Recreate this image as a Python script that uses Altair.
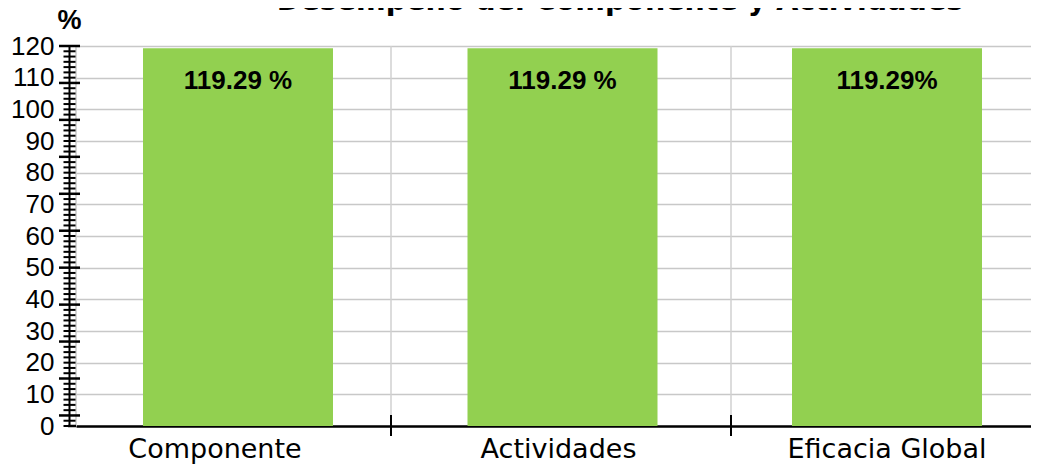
import altair as alt
import pandas as pd

title_text = "Desempeño del Componente y Actividades"
categories = ["Componente", "Actividades", "Eficacia Global"]
values = [119.29, 119.29, 119.29]
bar_labels = ["119.29 %", "119.29 %", "119.29%"]
y_label_values = [0, 10, 20, 30, 40, 50, 60, 70, 80, 90, 100, 110, 120]
major_ticks = [120, 108.33, 96.67, 85, 73.33, 61.67, 50, 38.33, 26.67, 15, 3.33]
minor_ticks = [round(120 - k * 5 / 3, 3) for k in range(73) if k % 7 != 0]

df = pd.DataFrame({"cat": categories, "val": values, "lab": bar_labels})
b1 = pd.DataFrame({"cat": ["Componente"]})
b2 = pd.DataFrame({"cat": ["Actividades"]})
majors = pd.DataFrame({"val": major_ticks})
minors = pd.DataFrame({"val": minor_ticks})

xscale = alt.Scale(domain=categories, paddingInner=0.41448, paddingOuter=0.17874, align=0.5776)
yscale = alt.Scale(domain=[0, 120], nice=False, zero=True)

x_axis = alt.Axis(
    title=None, labels=False, ticks=False,
    domainColor="black", domainWidth=2.5, grid=False)
y_axis = alt.Axis(
    values=y_label_values, title="%", titleAngle=0, titleX=0, titleY=-18,
    titleAlign="center", titleBaseline="alphabetic", titleFont="Liberation Sans",
    titleFontSize=27, titleFontWeight="bold", titleColor="black",
    labelFont="Liberation Sans", labelFontSize=26, labelColor="black",
    ticks=False, labelPadding=15, offset=7, domainColor="black", domainWidth=2,
    gridColor="#C8C8C8", gridWidth=1.5)

X = lambda **kw: alt.X("cat:N", scale=xscale, axis=x_axis, **kw)
Y = lambda: alt.Y("val:Q", scale=yscale, axis=y_axis)

bars = alt.Chart(df).mark_bar(color="#92D050").encode(x=X(), y=Y())

grid1 = alt.Chart(b1).mark_rule(color="#D0D0D0", strokeWidth=1.5, xOffset=58).encode(
    x=X(bandPosition=1), y=alt.value(0), y2=alt.value(380))
grid2 = alt.Chart(b2).mark_rule(color="#D0D0D0", strokeWidth=1.5, xOffset=73.5).encode(
    x=X(bandPosition=1), y=alt.value(0), y2=alt.value(380))
tick1 = alt.Chart(b1).mark_rule(color="black", strokeWidth=2, xOffset=58).encode(
    x=X(bandPosition=1), y=alt.value(369), y2=alt.value(390))
tick2 = alt.Chart(b2).mark_rule(color="black", strokeWidth=2, xOffset=73.5).encode(
    x=X(bandPosition=1), y=alt.value(369), y2=alt.value(390))
left_border = alt.Chart(b1).mark_rule(color="#C8C8C8", strokeWidth=1.5).encode(
    x=alt.value(0), y=alt.value(0), y2=alt.value(380))
axis_ext = alt.Chart(b1).mark_rule(color="black", strokeWidth=2.5).encode(
    x=alt.value(-8), x2=alt.value(0), y=alt.value(380))

minor_marks = alt.Chart(minors).mark_tick(color="black", size=12, thickness=2, opacity=1).encode(
    y=Y(), x=alt.value(-6.5))
major_marks = alt.Chart(majors).mark_tick(color="black", size=21, thickness=2.5, opacity=1).encode(
    y=Y(), x=alt.value(-6.5))

texts = alt.Chart(df).mark_text(
    font="Liberation Sans", fontSize=26, fontWeight="bold", baseline="alphabetic",
    dy=41, color="black").encode(x=X(), y=Y(), text="lab:N")

def cat_label(name, dx):
    return alt.Chart(df).transform_filter(alt.datum.cat == name).mark_text(
        font="DejaVu Sans", fontSize=27, baseline="alphabetic", align="center",
        color="black", dx=dx).encode(x=X(), y=alt.value(412), text="cat:N")

lab1 = cat_label("Componente", -23)
lab2 = cat_label("Actividades", -4)
lab3 = cat_label("Eficacia Global", 0)

title = alt.Chart(b1).mark_text(
    font="DejaVu Sans", fontSize=28.5, fontWeight="bold", baseline="alphabetic",
    align="center", color="black").encode(
    x=alt.value(544), y=alt.value(-36), text=alt.value(title_text))

chart = alt.layer(
    grid1, grid2, left_border, bars, tick1, tick2, axis_ext, minor_marks, major_marks,
    texts, lab1, lab2, lab3, title
).properties(
    width=955, height=380,
    autosize=alt.AutoSizeParams(type="none"),
    padding={"left": 68, "top": 38, "right": 0, "bottom": 39},
).configure_view(strokeWidth=0)

chart.save("out.html", embed_options={"renderer": "svg", "actions": False})
